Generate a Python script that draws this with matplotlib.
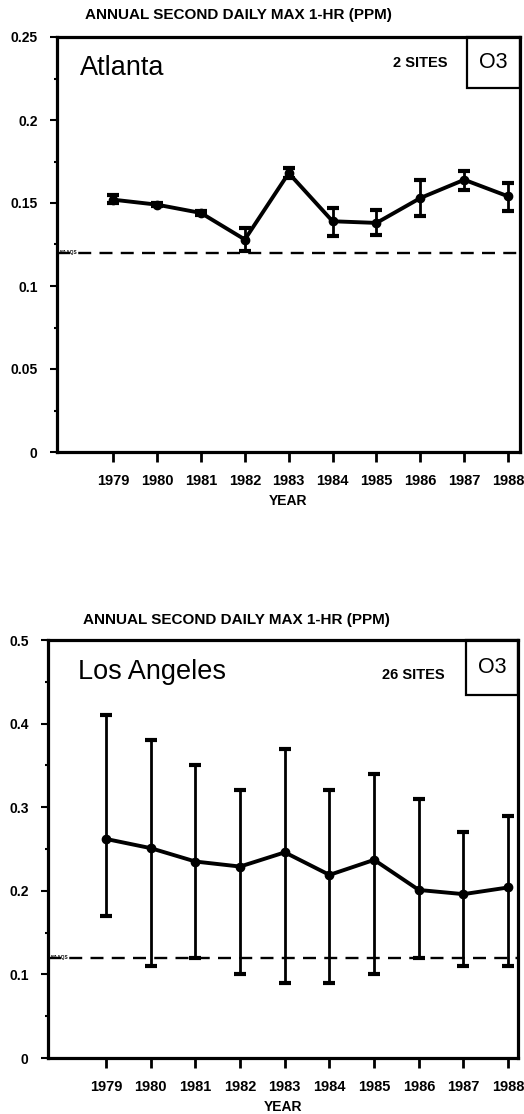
import matplotlib
matplotlib.use('Agg')
import matplotlib.pyplot as plt
from matplotlib.patches import Rectangle
from matplotlib.ticker import MultipleLocator

plt.rcParams['font.family'] = ['Liberation Sans', 'DejaVu Sans']

years = [1979, 1980, 1981, 1982, 1983, 1984, 1985, 1986, 1987, 1988]
naaqs = 0.12
title_text = 'ANNUAL SECOND DAILY MAX 1-HR (PPM)'

# Atlanta, 2 sites
atl_mean = [0.152, 0.149, 0.144, 0.128, 0.168, 0.139, 0.138, 0.153, 0.164, 0.154]
atl_lo = [0.150, 0.148, 0.143, 0.121, 0.165, 0.130, 0.131, 0.142, 0.158, 0.145]
atl_hi = [0.155, 0.150, 0.145, 0.135, 0.171, 0.147, 0.146, 0.164, 0.169, 0.162]
atl_yticks = [0, 0.05, 0.1, 0.15, 0.2, 0.25]
atl_ylabels = ['0', '0.05', '0.1', '0.15', '0.2', '0.25']

# Los Angeles, 26 sites
la_mean = [0.262, 0.251, 0.235, 0.229, 0.246, 0.219, 0.237, 0.201, 0.196, 0.204]
la_lo = [0.17, 0.11, 0.12, 0.10, 0.09, 0.09, 0.10, 0.12, 0.11, 0.11]
la_hi = [0.41, 0.38, 0.35, 0.32, 0.37, 0.32, 0.34, 0.31, 0.27, 0.29]
la_yticks = [0, 0.1, 0.2, 0.3, 0.4, 0.5]
la_ylabels = ['0', '0.1', '0.2', '0.3', '0.4', '0.5']

W, H = 524, 1114
fig = plt.figure(figsize=(W / 100, H / 100), dpi=100)


def box(l, t, r, b):
    # pixel box -> figure fraction
    return [l / W, 1 - b / H, (r - l) / W, (b - t) / H]


def panel(rect, mean, lo, hi, ymax, yticks, ylabels, minor, xlim, tag):
    ax = fig.add_axes(rect)
    yerr = [[m - a for m, a in zip(mean, lo)], [b - m for m, b in zip(mean, hi)]]
    ax.errorbar(years, mean, yerr=yerr, color='black', lw=2.8, marker='o',
                ms=6, elinewidth=2, capsize=4.5, capthick=3, zorder=3)
    ax.axhline(naaqs, color='black', lw=1.7, dashes=(5.5, 3.5), zorder=2)
    ax.text(0.005, naaqs, 'NAAQS', transform=ax.get_yaxis_transform(),
            fontsize=3.5, fontweight='bold', va='center', ha='left')

    ax.set_xlim(*xlim)
    ax.set_ylim(0, ymax)
    ax.set_xticks(years)
    ax.set_xticklabels([str(y) for y in years], fontsize=10.5, fontweight='bold')
    ax.set_yticks(yticks)
    ax.set_yticklabels(ylabels, fontsize=10, fontweight='bold')
    ax.yaxis.set_minor_locator(MultipleLocator(minor))
    ax.tick_params(axis='x', direction='out', length=7, width=2, pad=9)
    ax.tick_params(axis='y', which='major', direction='out', length=5, width=1.5, pad=9)
    ax.tick_params(axis='y', which='minor', direction='out', length=2.5, width=1.5)
    for s in ax.spines.values():
        s.set_linewidth(2.3)
    ax.set_xlabel('YEAR', fontsize=10, fontweight='bold', labelpad=4)

    # O3 tag in the upper right corner
    x0, y0 = tag
    ax.add_patch(Rectangle((x0, y0), 1 - x0, 1 - y0, transform=ax.transAxes,
                           fill=False, lw=1.6, clip_on=False))
    ax.text((1 + x0) / 2, (1 + y0) / 2, 'O3', transform=ax.transAxes,
            fontsize=15.5, ha='center', va='center')
    return ax


ax1 = panel(box(57, 37, 520, 452), atl_mean, atl_lo, atl_hi, 0.25,
            atl_yticks, atl_ylabels, 0.025, (1977.72, 1988.27), (0.8855, 0.877))
ax2 = panel(box(48, 640, 518, 1058), la_mean, la_lo, la_hi, 0.5,
            la_yticks, la_ylabels, 0.05, (1977.70, 1988.22), (0.889, 0.868))

fig.text(85 / W, 1 - 15 / H, title_text, fontsize=11, fontweight='bold',
         va='center', ha='left')
fig.text(80 / W, 1 - 68 / H, 'Atlanta', fontsize=19.5, va='center', ha='left')
fig.text(393 / W, 1 - 63 / H, '2 SITES', fontsize=10.5, fontweight='bold',
         va='center', ha='left')

fig.text(83 / W, 1 - 620 / H, title_text, fontsize=11, fontweight='bold',
         va='center', ha='left')
fig.text(78 / W, 1 - 672 / H, 'Los Angeles', fontsize=19.5, va='center', ha='left')
fig.text(382 / W, 1 - 675 / H, '26 SITES', fontsize=10.5, fontweight='bold',
         va='center', ha='left')

fig.savefig('out.png', dpi=100)
